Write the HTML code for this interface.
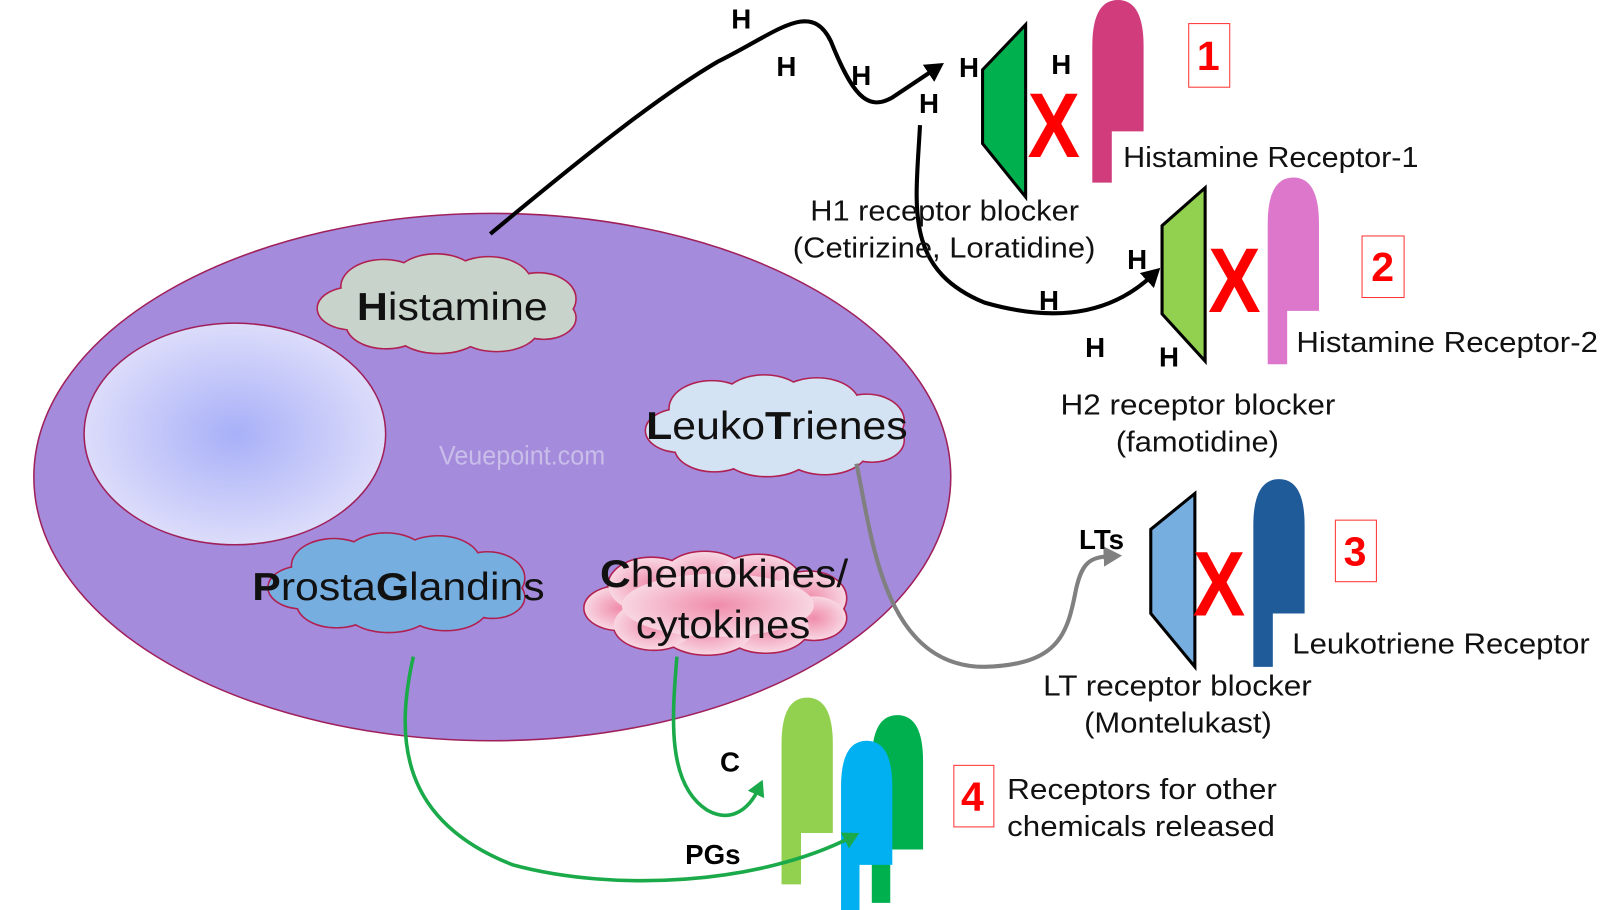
<!DOCTYPE html>
<html><head><meta charset="utf-8"><style>
html,body{margin:0;padding:0;background:#fff;}
svg{display:block;}
.t{font-family:"Liberation Sans",sans-serif;fill:#111;}
.h{font-family:"Liberation Sans",sans-serif;font-weight:bold;font-size:27px;fill:#000;}
.n{font-family:"Liberation Sans",sans-serif;font-weight:bold;font-size:40px;fill:#f00;}
.x{font-family:"Liberation Sans",sans-serif;font-weight:bold;font-size:90px;fill:#f00;}
</style></head><body>
<svg width="1600" height="910" viewBox="0 0 1560 887" preserveAspectRatio="none" xmlns="http://www.w3.org/2000/svg">
<defs>
<radialGradient id="nuc" cx="0.5" cy="0.5" r="0.5"><stop offset="0" stop-color="#a8b0f8"/><stop offset="1" stop-color="#dcdcfa"/></radialGradient>
<radialGradient id="pink" cx="0.5" cy="0.5" r="0.5"><stop offset="0" stop-color="#f08cab"/><stop offset="1" stop-color="#f8d6e2"/></radialGradient>
<marker id="ab" markerWidth="5" markerHeight="5" refX="2" refY="2.5" orient="auto" markerUnits="strokeWidth"><path d="M0,0 L4.5,2.5 L0,5 z" fill="#000"/></marker>
<marker id="ag" markerWidth="5" markerHeight="5" refX="2" refY="2.5" orient="auto" markerUnits="strokeWidth"><path d="M0,0 L4.5,2.5 L0,5 z" fill="#808080"/></marker>
<marker id="agr" markerWidth="5" markerHeight="5" refX="2" refY="2.5" orient="auto" markerUnits="strokeWidth"><path d="M0,0 L4.5,2.5 L0,5 z" fill="#1aaa4a"/></marker>
</defs>
<ellipse cx="480" cy="465" rx="447" ry="257" fill="#a48bdc" stroke="#a0205a" stroke-width="1.5"/>
<ellipse cx="229" cy="423" rx="147" ry="108" fill="url(#nuc)" stroke="#a0205a" stroke-width="1.5"/>
<g id="clouds"></g>
<text x="428" y="453" font-family="Liberation Sans, sans-serif" font-size="26" fill="#c9bde9" textLength="162" lengthAdjust="spacingAndGlyphs">Veuepoint.com</text>
<text class="t" x="348" y="312" font-size="38" textLength="186" lengthAdjust="spacingAndGlyphs"><tspan font-weight="bold">H</tspan>istamine</text>
<text class="t" x="630" y="428" font-size="38" textLength="255" lengthAdjust="spacingAndGlyphs"><tspan font-weight="bold">L</tspan>euko<tspan font-weight="bold">T</tspan>rienes</text>
<text class="t" x="246" y="585" font-size="38" textLength="285" lengthAdjust="spacingAndGlyphs"><tspan font-weight="bold">P</tspan>rosta<tspan font-weight="bold">G</tspan>landins</text>
<text class="t" x="585" y="572" font-size="38" textLength="242" lengthAdjust="spacingAndGlyphs"><tspan font-weight="bold">C</tspan>hemokines/</text>
<text class="t" x="620" y="622" font-size="38" textLength="170" lengthAdjust="spacingAndGlyphs">cytokines</text>
<!-- arrows -->
<path d="M478,228 C560,160 640,95 700,60 C760,30 790,0 810,40 C830,90 845,110 870,95 L912,67" fill="none" stroke="#000" stroke-width="4" marker-end="url(#ab)"/>
<path d="M897,122 C893,200 880,262 960,295 C1040,318 1090,300 1124,268" fill="none" stroke="#000" stroke-width="4" marker-end="url(#ab)"/>
<path d="M835,452 C850,520 860,650 960,650 C1030,648 1040,620 1048,580 C1054,548 1062,543 1084,542" fill="none" stroke="#808080" stroke-width="4" marker-end="url(#ag)"/>
<!-- H labels -->
<text class="h" x="713" y="28">H</text><text class="h" x="757" y="74">H</text><text class="h" x="830" y="83">H</text>
<text class="h" x="935" y="75">H</text><text class="h" x="1025" y="72">H</text><text class="h" x="896" y="110">H</text>
<text class="h" x="1099" y="262">H</text><text class="h" x="1013" y="302">H</text><text class="h" x="1058" y="348">H</text><text class="h" x="1130" y="357">H</text>
<text class="h" x="1052" y="535">LTs</text><text class="h" x="702" y="752">C</text><text class="h" x="668" y="842">PGs</text>
<!-- blockers -->
<polygon points="958,68 1000,24 1000,192 958,140" fill="#00b04f" stroke="#000" stroke-width="3"/>
<polygon points="1133,220 1175,183 1175,352 1133,306" fill="#92d050" stroke="#000" stroke-width="3"/>
<polygon points="1122,516 1165,481 1165,650 1122,598" fill="#77aee0" stroke="#000" stroke-width="3"/>
<text class="x" x="1002" y="153" textLength="51" lengthAdjust="spacingAndGlyphs">X</text>
<text class="x" x="1178" y="304" textLength="51" lengthAdjust="spacingAndGlyphs">X</text>
<text class="x" x="1163" y="600" textLength="51" lengthAdjust="spacingAndGlyphs">X</text>
<!-- receptors -->
<path d="M1065,178 L1065,45 Q1065,0 1090,0 Q1115,0 1115,45 L1115,128 L1084,128 L1084,178 Z" fill="#d03c7c"/>
<path d="M1236,355 L1236,218 Q1236,173 1261,173 Q1286,173 1286,218 L1286,303 L1255,303 L1255,355 Z" fill="#dd77cc"/>
<path d="M1222,650 L1222,512 Q1222,467 1247,467 Q1272,467 1272,512 L1272,598 L1241,598 L1241,650 Z" fill="#1f5b99"/>
<path d="M762,862 L762,725 Q762,680 787,680 Q812,680 812,725 L812,812 L781,812 L781,862 Z" fill="#92d050"/>
<path d="M850,880 L850,742 Q850,697 875,697 Q900,697 900,742 L900,828 L868,828 L868,880 Z" fill="#00b04f"/>
<path d="M820,890 L820,767 Q820,722 845,722 Q870,722 870,767 L870,843 L838,843 L838,890 Z" fill="#00b0f0"/>
<path d="M403,640 C385,720 390,800 500,843 C600,870 740,862 830,816" fill="none" stroke="#1aaa4a" stroke-width="3.5" marker-end="url(#agr)"/>
<path d="M660,640 C655,700 650,765 690,790 C712,802 730,790 740,768" fill="none" stroke="#1aaa4a" stroke-width="3.5" marker-end="url(#agr)"/>
<!-- number boxes -->
<rect x="1159" y="23" width="40" height="62" fill="#fff" stroke="#f33" stroke-width="1"/><text class="n" x="1167" y="68">1</text>
<rect x="1328" y="230" width="41" height="60" fill="#fff" stroke="#f33" stroke-width="1"/><text class="n" x="1337" y="274">2</text>
<rect x="1302" y="507" width="40" height="60" fill="#fff" stroke="#f33" stroke-width="1"/><text class="n" x="1310" y="551">3</text>
<rect x="930" y="746" width="39" height="60" fill="#fff" stroke="#f33" stroke-width="1"/><text class="n" x="937" y="790">4</text>
<!-- labels -->
<g class="t" font-size="28">
<text x="1095" y="163" textLength="288" lengthAdjust="spacingAndGlyphs">Histamine Receptor-1</text>
<text x="790" y="215" textLength="262" lengthAdjust="spacingAndGlyphs">H1 receptor blocker</text>
<text x="773" y="251" textLength="295" lengthAdjust="spacingAndGlyphs">(Cetirizine, Loratidine)</text>
<text x="1264" y="343" textLength="294" lengthAdjust="spacingAndGlyphs">Histamine Receptor-2</text>
<text x="1034" y="404" textLength="268" lengthAdjust="spacingAndGlyphs">H2 receptor blocker</text>
<text x="1088" y="440" textLength="159" lengthAdjust="spacingAndGlyphs">(famotidine)</text>
<text x="1260" y="637" textLength="290" lengthAdjust="spacingAndGlyphs">Leukotriene Receptor</text>
<text x="1017" y="678" textLength="262" lengthAdjust="spacingAndGlyphs">LT receptor blocker</text>
<text x="1057" y="714" textLength="183" lengthAdjust="spacingAndGlyphs">(Montelukast)</text>
<text x="982" y="779" textLength="263" lengthAdjust="spacingAndGlyphs">Receptors for other</text>
<text x="982" y="815" textLength="261" lengthAdjust="spacingAndGlyphs">chemicals released</text>
</g>
</svg>
<script>
(function(){
var NS="http://www.w3.org/2000/svg",g=document.getElementById("clouds");
var rel=[[.13,.55,.13,.22],[.25,.32,.16,.28],[.45,.25,.16,.27],[.65,.28,.16,.27],[.84,.45,.14,.27],[.86,.65,.12,.22],[.68,.75,.16,.25],[.46,.77,.17,.25],[.26,.72,.15,.25],[.5,.52,.36,.32]];
function cloud(x,y,w,h,fill){
 [0,1].forEach(function(pass){
  rel.forEach(function(r){
   var e=document.createElementNS(NS,"ellipse");
   e.setAttribute("cx",x+r[0]*w);e.setAttribute("cy",y+r[1]*h);
   e.setAttribute("rx",r[2]*w);e.setAttribute("ry",r[3]*h);
   e.setAttribute("fill",fill);
   if(pass==0){e.setAttribute("stroke","#b02050");e.setAttribute("stroke-width","3");}
   g.appendChild(e);
  });
 });
}
cloud(310,250,256,92,"#c8d3cc");
cloud(630,368,256,94,"#d3e3f3");
cloud(262,522,254,92,"#77aee0");
cloud(570,540,260,96,"url(#pink)");
})();
</script>
</body></html>
